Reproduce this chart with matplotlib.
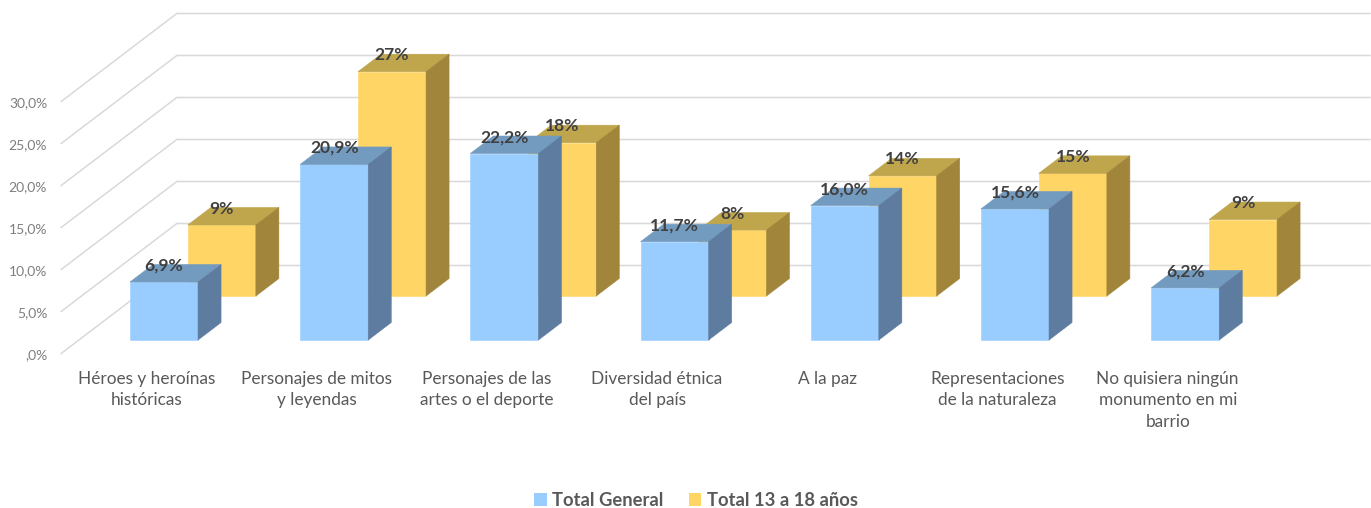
import matplotlib
matplotlib.use("Agg")
import matplotlib.pyplot as plt
from matplotlib.patches import Polygon, Patch

plt.rcParams['font.family'] = ['Lato', 'DejaVu Sans']

categories = ["Héroes y heroínas\nhistóricas", "Personajes de mitos\ny leyendas",
              "Personajes de las\nartes o el deporte", "Diversidad étnica\ndel país",
              "A la paz", "Representaciones\nde la naturaleza",
              "No quisiera ningún\nmonumento en mi\nbarrio"]
total_general = [6.9, 20.9, 22.2, 11.7, 16.0, 15.6, 6.2]
total_13_18 = [8.45, 26.7, 18.25, 7.85, 14.3, 14.6, 9.1]
labels_general = ["6,9%", "20,9%", "22,2%", "11,7%", "16,0%", "15,6%", "6,2%"]
labels_13_18 = ["9%", "27%", "18%", "8%", "14%", "15%", "9%"]
y_ticks = [0, 5, 10, 15, 20, 25, 30]
y_tick_labels = [",0%", "5,0%", "10,0%", "15,0%", "20,0%", "25,0%", "30,0%"]
series_names = ["Total General", "Total 13 a 18 años"]

W, H = 1371, 508
PX_PER_CAT = 170.2
PX_PER_PCT = 8.4
X0_PX, Y0_PX = 164.0, 340.0
DEPTH_DX, DEPTH_DY = 23.0, 17.5   # pixels per unit of depth

fig = plt.figure(figsize=(W / 100, H / 100), dpi=100)
ax = fig.add_axes([0, 0, 1, 1])
ax.set_xlim((0 - X0_PX) / PX_PER_CAT, (W - X0_PX) / PX_PER_CAT)
ax.set_ylim((Y0_PX - H) / PX_PER_PCT, Y0_PX / PX_PER_PCT)
ax.axis("off")


def proj(x, v, z):
    """Oblique projection: category x, value v, depth z -> data coordinates."""
    return (x + z * DEPTH_DX / PX_PER_CAT, v + z * DEPTH_DY / PX_PER_PCT)


Z_FLOOR = -13.5 / DEPTH_DY
Z_WALL = 74.5 / DEPTH_DY
Z_YELLOW = 44.0 / DEPTH_DY
BAR_W = 0.4
X_LEFT, X_RIGHT = -0.5, 6.51

for t, lab in zip(y_ticks, y_tick_labels):
    pts = [proj(X_LEFT, t, Z_FLOOR), proj(X_LEFT, t, Z_WALL), proj(X_RIGHT, t, Z_WALL)]
    ax.plot(*zip(*pts), color="#D9D9D9", lw=1.1, zorder=1, solid_joinstyle="miter")
    px, py = proj(X_LEFT, t, Z_FLOOR)
    ax.annotate(lab, (px, py), xytext=(-14, -2), textcoords="offset pixels",
                ha="right", va="center", fontsize=10, color="#7F7F7F")


def draw_bar(i, v, z, front, top, side, zorder):
    x0, x1 = i - BAR_W / 2, i + BAR_W / 2
    faces = [
        ([proj(x0, 0, z), proj(x1, 0, z), proj(x1, v, z), proj(x0, v, z)], front),
        ([proj(x0, v, z), proj(x1, v, z), proj(x1, v, z + 1), proj(x0, v, z + 1)], top),
        ([proj(x1, 0, z), proj(x1, 0, z + 1), proj(x1, v, z + 1), proj(x1, v, z)], side),
    ]
    for pts, c in faces:
        ax.add_patch(Polygon(pts, closed=True, facecolor=c, edgecolor=c, lw=0.4, zorder=zorder))


for i, v in enumerate(total_13_18):
    draw_bar(i, v, Z_YELLOW, "#FFD666", "#BFA54C", "#A0853A", 2)
for i, v in enumerate(total_general):
    draw_bar(i, v, 0, "#99CCFF", "#729BBF", "#5E7CA0", 3)

for i, (v, lab) in enumerate(zip(total_13_18, labels_13_18)):
    xy = proj(i, v, Z_YELLOW)
    ax.annotate(lab, xy, xytext=(0, 16.5), textcoords="offset pixels", ha="center", va="center",
                fontsize=12.6, fontweight="bold", color="#404040", zorder=5)
for i, (v, lab) in enumerate(zip(total_general, labels_general)):
    xy = proj(i, v, 0)
    ax.annotate(lab, xy, xytext=(0, 16.5), textcoords="offset pixels", ha="center", va="center",
                fontsize=12.6, fontweight="bold", color="#404040", zorder=5)

for i, lab in enumerate(categories):
    ax.annotate(lab, (i, 0), xytext=(-17.5, -31), textcoords="offset pixels", ha="center", va="top",
                fontsize=12.4, color="#595959", linespacing=1.42)

handles = [Patch(facecolor="#99CCFF", label=series_names[0]),
           Patch(facecolor="#FFD666", label=series_names[1])]
ax.legend(handles=handles, loc="center", bbox_to_anchor=(696 / W, 1 - 500 / H), ncol=2,
          frameon=False, handlelength=0.7, handleheight=0.7, handletextpad=0.3,
          columnspacing=1.35, prop={"size": 13.2, "weight": "bold"}, labelcolor="#595959")

fig.savefig("out.png", dpi=100)
